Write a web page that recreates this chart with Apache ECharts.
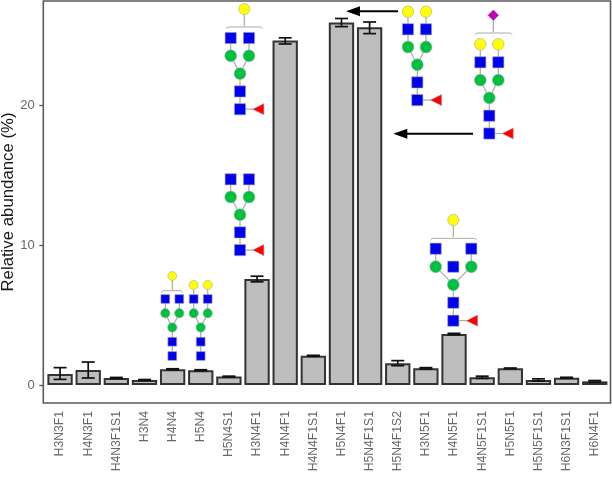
<!DOCTYPE html>
<html>
<head>
<meta charset="utf-8">
<style>html,body{margin:0;padding:0;background:#fff}#c{width:612px;height:477px;filter:blur(0.4px)}</style>
<script src="https://cdn.jsdelivr.net/npm/echarts@6/dist/echarts.min.js"></script>
</head>
<body>
<div id="c"></div>
<script>
const categories = ['H3N3F1','H4N3F1','H4N3F1S1','H3N4','H4N4','H5N4','H5N4S1','H3N4F1','H4N4F1','H4N4F1S1','H5N4F1','H5N4F1S1','H5N4F1S2','H3N5F1','H4N5F1','H4N5F1S1','H5N5F1','H5N5F1S1','H6N3F1S1','H6N4F1'];
const abundance = [0.78,1.07,0.5,0.36,1.12,1.05,0.6,7.57,24.6,2.09,25.9,25.55,1.55,1.19,3.64,0.55,1.19,0.36,0.52,0.26];
const errLow  = [0.4,0.5,0.46,0.33,1.08,1.01,0.57,7.37,24.36,2.06,25.6,25.1,1.38,1.14,3.59,0.47,1.17,0.28,0.49,0.2];
const errHigh = [1.24,1.64,0.54,0.39,1.16,1.09,0.63,7.77,24.8,2.12,26.18,25.93,1.74,1.24,3.69,0.63,1.21,0.44,0.55,0.32];
const yTicks = [0,10,20];

const BLUE='#0000f0', GREEN='#00c040', YEL='#ffff00', RED='#ff0000', PUR='#c000c0', LINK='#aaaaaa', EDGE='#a8a8a8';
const g = [];
function link(x1,y1,x2,y2){g.push({type:'line',z:50,shape:{x1,y1,x2,y2},style:{stroke:LINK,lineWidth:1.2}});}
function sq(x,y,s){g.push({type:'rect',z:51,shape:{x:x-s/2,y:y-s/2,width:s,height:s},style:{fill:BLUE,stroke:EDGE,lineWidth:0.6}});}
function ci(x,y,s,c){g.push({type:'circle',z:51,shape:{cx:x,cy:y,r:s/2},style:{fill:c,stroke:EDGE,lineWidth:0.6}});}
function fuc(x,y,s){g.push({type:'polygon',z:51,shape:{points:[[x-s/2,y],[x+s/2,y-s/2],[x+s/2,y+s/2]]},style:{fill:RED,stroke:EDGE,lineWidth:0.5}});}
function dia(x,y,s){const r=s/2;g.push({type:'polygon',z:51,shape:{points:[[x-r,y],[x,y-r],[x+r,y],[x,y+r]]},style:{fill:PUR,stroke:EDGE,lineWidth:0.5}});}
function bracket(x1,x2,y){
  g.push({type:'polyline',z:50,shape:{points:[[x1,y+1.5],[x1+2,y],[x2-2,y],[x2,y+1.5]]},style:{stroke:LINK,lineWidth:1,fill:null}});
}
// biantennary core: two arms, central mannose, two GlcNAc, optional fucose
function core(o){
  const {xl,xr,xc,yArm,step,s,fx,term,yTerm} = o;
  const yG=yArm+step, yC=yArm+2*step, yS1=yArm+3*step, yS2=yArm+4*step;
  link(xl,yArm,xl,yG);link(xr,yArm,xr,yG);link(xl,yG,xc,yC);link(xr,yG,xc,yC);
  link(xc,yC,xc,yS2);
  if(fx){link(xc,yS2,fx,yS2);fuc(fx,yS2,s);}
  if(term){link(xl,yTerm,xl,yArm);link(xr,yTerm,xr,yArm);ci(xl,yTerm,s*1.03,YEL);ci(xr,yTerm,s*1.03,YEL);}
  sq(xl,yArm,s);sq(xr,yArm,s);ci(xl,yG,s*1.06,GREEN);ci(xr,yG,s*1.06,GREEN);ci(xc,yC,s*1.06,GREEN);
  sq(xc,yS1,s);sq(xc,yS2,s);
}
function arrow(x1,x2,y){
  g.push({type:'line',z:52,shape:{x1,y1:y,x2:x2+12,y2:y},style:{stroke:'#000',lineWidth:2}});
  g.push({type:'polygon',z:52,shape:{points:[[x2,y],[x2+14,y-5],[x2+14,y+5]]},style:{fill:'#000'}});
}
// H4N4
link(172.3,276,172.3,290);bracket(161,183,290.7);ci(172.3,276,8.8,YEL);
core({xl:165.3,xr:179.3,xc:172.3,yArm:299,step:14.25,s:8.8});
// H5N4
core({xl:193.7,xr:207.7,xc:200.7,yArm:299,step:14.25,s:8.8,term:true,yTerm:285});
// H4N4F1
link(244.3,9,244.3,26);bracket(226,262.7,27);ci(244.3,9,11.2,YEL);
core({xl:230.7,xr:249,xc:240,yArm:38,step:17.8,s:11.2,fx:258.3});
// H3N4F1
core({xl:230.7,xr:249,xc:240,yArm:179.3,step:17.7,s:11.2,fx:258.3});
// H5N4F1
core({xl:408,xr:426,xc:417.3,yArm:29.3,step:17.7,s:11.2,fx:436,term:true,yTerm:11.7});
// H5N4F1S1
link(493.3,15,493.3,32);bracket(475,512.3,33);dia(493.3,15.3,11);
core({xl:480.3,xr:498.3,xc:489.3,yArm:62.3,step:17.8,s:11.2,fx:507.7,term:true,yTerm:44.3});
// H4N5F1
link(453.3,220,453.3,237);bracket(430.7,476.7,238.3);ci(453.3,220,11.2,YEL);
core({xl:435.7,xr:471.3,xc:453.3,yArm:248.7,step:18,s:11.2,fx:472});
sq(453.3,266.7,11.2);
arrow(398,346,11.3);
arrow(473,393.3,133.7);
// panel frame
g.push({type:'rect',z:1,silent:true,shape:{x:43.3,y:1,width:567.2,height:402},style:{fill:null,stroke:'#5a5a5a',lineWidth:1.6}});

const chart = echarts.init(document.getElementById('c'),null,{renderer:'canvas'});
chart.setOption({
  animation:false,
  backgroundColor:'#fff',
  textStyle:{fontFamily:'Liberation Sans'},
  graphic:g,
  grid:{left:46,top:1,width:562.8,height:402,outerBoundsMode:'none',containLabel:false},
  xAxis:{
    type:'category',data:categories,boundaryGap:true,
    axisLine:{show:false,onZero:false},
    axisTick:{alignWithLabel:true,length:4,lineStyle:{color:'#555',width:1.3}},
    axisLabel:{rotate:90,interval:0,fontSize:12.2,color:'#666',margin:8,fontFamily:'Liberation Sans'}
  },
  yAxis:{
    type:'value',min:-1.286,max:27.43,offset:2.7,
    name:'Relative abundance (%)',nameLocation:'middle',nameGap:26,nameRotate:90,nameMoveOverlap:false,
    nameTextStyle:{fontSize:16.8,color:'#1a1a1a',fontFamily:'Liberation Sans'},
    splitLine:{show:false},axisLine:{show:false},
    axisTick:{show:true,length:4,customValues:yTicks,lineStyle:{color:'#555',width:1.3}},
    axisLabel:{customValues:yTicks,fontSize:13,color:'#666',margin:8.5,fontFamily:'Liberation Sans'}
  },
  series:[
    {type:'bar',data:abundance,barWidth:'90%',z:2,
      itemStyle:{color:'#bebebe',borderColor:'#333',borderWidth:2}},
    {type:'custom',z:3,data:categories.map((c,i)=>[i,errLow[i],errHigh[i]]),
      encode:{x:0,y:[1,2]},
      renderItem(p,api){
        const a=api.coord([api.value(0),api.value(1)]),b=api.coord([api.value(0),api.value(2)]);
        const w=6.5,st={stroke:'#111',lineWidth:1.7};
        return {type:'group',children:[
          {type:'line',shape:{x1:a[0],y1:a[1],x2:b[0],y2:b[1]},style:st},
          {type:'line',shape:{x1:a[0]-w,y1:a[1],x2:a[0]+w,y2:a[1]},style:st},
          {type:'line',shape:{x1:b[0]-w,y1:b[1],x2:b[0]+w,y2:b[1]},style:st}
        ]};
      }}
  ]
});
</script>
</body>
</html>
